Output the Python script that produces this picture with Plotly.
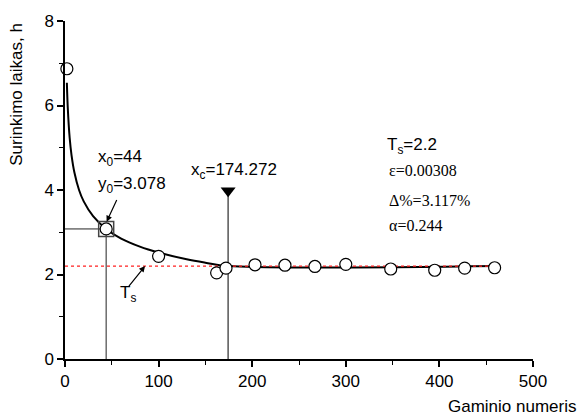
import plotly.graph_objects as go

# Measured points
pts_x = [2, 44, 100, 162, 172, 203, 235, 267, 300, 348, 395, 427, 459]
pts_y = [6.87, 3.078, 2.43, 2.04, 2.15, 2.23, 2.22, 2.19, 2.24, 2.13, 2.10, 2.15, 2.16]

# Fitted curve
fit_x = [2, 3, 5, 7, 10, 15, 20, 30, 44, 60, 80, 100, 130, 150, 174.272, 465]
fit_y = [6.54, 5.93, 5.23, 4.82, 4.42, 4.00, 3.73, 3.38, 3.078, 2.85, 2.66, 2.52, 2.36, 2.28, 2.2, 2.2]

Ts = 2.2
x0, y0 = 44, 3.078
xc, xc_top = 174.272, 3.98

SANS = "Liberation Sans, Arial, sans-serif"
SERIF = "Liberation Serif, Times New Roman, serif"

fig = go.Figure()

# guide lines at x0 / y0
fig.add_trace(go.Scatter(x=[x0, x0], y=[0, y0], mode="lines",
                         line=dict(color="#555555", width=1.3), hoverinfo="skip"))
fig.add_trace(go.Scatter(x=[0, x0], y=[y0, y0], mode="lines",
                         line=dict(color="#222222", width=1), hoverinfo="skip"))
# xc vertical line with triangle
fig.add_trace(go.Scatter(x=[xc, xc], y=[0, xc_top], mode="lines",
                         line=dict(color="#555555", width=1.5), hoverinfo="skip"))
fig.add_trace(go.Scatter(x=[xc], y=[xc_top], mode="markers",
                         marker=dict(symbol="triangle-down", size=13, color="black"),
                         hoverinfo="skip"))
# fitted curve
fig.add_trace(go.Scatter(x=fit_x, y=fit_y, mode="lines", line_shape="spline",
                         line=dict(color="black", width=2), hoverinfo="skip"))
# Ts dashed line
fig.add_trace(go.Scatter(x=[0, 460], y=[Ts, Ts], mode="lines",
                         line=dict(color="#ff2020", width=1.2, dash="3px,3px"),
                         hoverinfo="skip"))
# data points
fig.add_trace(go.Scatter(x=pts_x, y=pts_y, mode="markers",
                         marker=dict(symbol="circle", size=12, color="white",
                                     line=dict(color="black", width=1.2)),
                         cliponaxis=False, hoverinfo="skip"))
# square at x0,y0
fig.add_trace(go.Scatter(x=[x0], y=[y0], mode="markers",
                         marker=dict(symbol="square-open", size=15,
                                     line=dict(color="#444444", width=1.5), color="#444444"),
                         hoverinfo="skip"))

fs = 17
ann = []
ann.append(dict(x=33, y=4.75, xref="x", yref="y", text="x<sub>0</sub>=44", showarrow=False,
                xanchor="left", yanchor="middle", font=dict(family=SANS, size=fs, color="black")))
ann.append(dict(x=33, y=4.12, xref="x", yref="y", text="y<sub>0</sub>=3.078", showarrow=False,
                xanchor="left", yanchor="middle", font=dict(family=SANS, size=fs, color="black")))
ann.append(dict(x=132.5, y=4.45, xref="x", yref="y", text="x<sub>c</sub>=174.272", showarrow=False,
                xanchor="left", yanchor="middle", font=dict(family=SANS, size=fs, color="black")))
ann.append(dict(x=57, y=1.53, xref="x", yref="y", text="T<sub>s</sub>", showarrow=False,
                xanchor="left", yanchor="middle", font=dict(family=SANS, size=fs, color="black")))
# arrows
ann.append(dict(x=44.5, y=3.25, xref="x", yref="y", ax=56, ay=3.80, axref="x", ayref="y",
                text="", showarrow=True, arrowhead=2, arrowsize=1, arrowwidth=1.2, arrowcolor="black"))
ann.append(dict(x=85.5, y=2.2, xref="x", yref="y", ax=67, ay=1.69, axref="x", ayref="y",
                text="", showarrow=True, arrowhead=2, arrowsize=1, arrowwidth=1.2, arrowcolor="black"))
# right block
ann.append(dict(x=342, y=5.05, xref="x", yref="y", text="T<sub>s</sub>=2.2", showarrow=False,
                xanchor="left", yanchor="middle", font=dict(family=SANS, size=fs, color="black")))
for txt, yy in [("ε=0.00308", 4.46), ("Δ%=3.117%", 3.75), ("α=0.244", 3.17)]:
    ann.append(dict(x=344, y=yy, xref="x", yref="y", text=txt, showarrow=False,
                    xanchor="left", yanchor="middle", font=dict(family=SERIF, size=16, color="black")))
# axis titles
ann.append(dict(x=-0.104, y=1.0, xref="paper", yref="paper", text="Surinkimo laikas, h",
                textangle=-90, showarrow=False, xanchor="center", yanchor="top",
                font=dict(family=SANS, size=fs, color="black")))
ann.append(dict(x=0.815, y=-0.14, xref="paper", yref="paper", text="Gaminio numeris",
                showarrow=False, xanchor="left", yanchor="middle",
                font=dict(family=SANS, size=fs, color="black")))

fig.update_layout(
    width=580, height=419,
    margin=dict(l=65, r=47, t=13, b=60),
    paper_bgcolor="white", plot_bgcolor="white",
    showlegend=False,
    annotations=ann,
    xaxis=dict(range=[0, 500], tickvals=[0, 100, 200, 300, 400, 500],
               showgrid=False, zeroline=False, showline=True, linecolor="black", linewidth=1.5,
               ticks="outside", ticklen=6, tickwidth=1.5, tickcolor="black",
               minor=dict(tickvals=[50, 150, 250, 350, 450], ticks="outside", ticklen=4,
                          tickwidth=1.2, tickcolor="black"),
               tickfont=dict(family=SANS, size=fs, color="black")),
    yaxis=dict(range=[0, 8], tickvals=[0, 2, 4, 6, 8],
               showgrid=False, zeroline=False, showline=True, linecolor="black", linewidth=1.5,
               ticks="outside", ticklen=6, tickwidth=1.5, tickcolor="black",
               minor=dict(tickvals=[1, 3, 5, 7], ticks="outside", ticklen=4,
                          tickwidth=1.2, tickcolor="black"),
               tickfont=dict(family=SANS, size=fs, color="black")),
)

fig.write_html("out.html")
